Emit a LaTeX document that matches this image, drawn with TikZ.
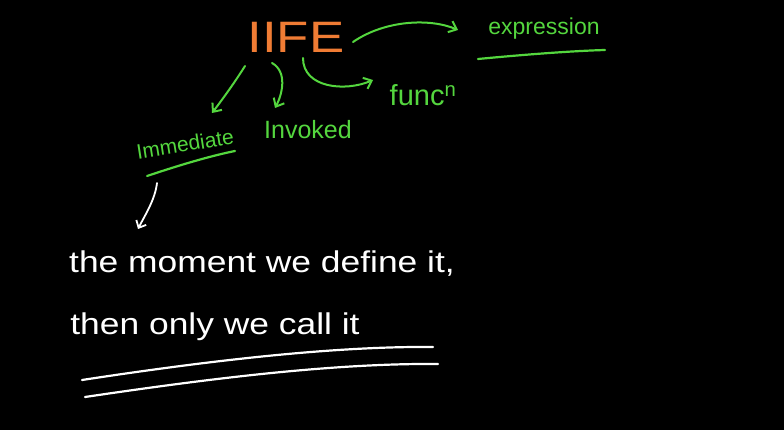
\documentclass[tikz,border=0pt]{standalone}
\usepackage{fontspec}
\setmainfont{Liberation Sans}
\usetikzlibrary{arrows.meta}
\definecolor{chalkgreen}{RGB}{84,214,62}
\definecolor{chalkorange}{RGB}{240,124,52}
\tikzset{
  gtext/.style={text=chalkgreen, inner sep=0pt},
  wtext/.style={text=white, inner sep=0pt, xscale=1.18},
  garrow/.style={draw=chalkgreen, line width=2pt, line cap=round, -{Straight Barb[length=7pt,width=12pt]}},
  warrow/.style={draw=white, line width=1.8pt, line cap=round, -{Straight Barb[length=6pt,width=11pt]}},
  gline/.style={draw=chalkgreen, line width=2.2pt, line cap=round},
  wline/.style={draw=white, line width=2.2pt, line cap=round}
}
\begin{document}
\begin{tikzpicture}[x=1pt,y=-1pt]
\fill[black] (0,0) rectangle (784,430);
\useasboundingbox (0,0) rectangle (784,430);

\node[text=chalkorange, inner sep=0pt, xscale=1.2] (iife) at (296,37) {\fontsize{44}{48}\selectfont IIFE};
\node[gtext] (expr) at (544,29) {\fontsize{23}{26}\selectfont expression};
\node[gtext] (func) at (423,95) {\fontsize{29}{32}\selectfont func\textsuperscript{n}};
\node[gtext, rotate=9] (imm) at (185,144) {\fontsize{21}{24}\selectfont Immediate};
\node[gtext] (inv) at (308,130) {\fontsize{25}{28}\selectfont Invoked};
\node[wtext] (l1) at (262,264) {\fontsize{30}{34}\selectfont the moment we define it,};
\node[wtext] (l2) at (215,327) {\fontsize{30}{34}\selectfont then only we call it};

% arrow ends
\coordinate (s1) at (353,42);  \coordinate (e1) at (458,30);
\coordinate (s2) at (303,58);  \coordinate (e2) at (373,80);
\coordinate (s3) at (245,66);  \coordinate (e3) at (212,113);
\coordinate (s4) at (272,63);  \coordinate (e4) at (275,108);
\coordinate (s5) at (157,183); \coordinate (e5) at (138,229);

\draw[garrow] (s1) .. controls (385,20) and (430,18) .. (e1);
\draw[garrow] (s2) .. controls (303,88) and (345,92) .. (e2);
\draw[garrow] (s3) .. controls (235,82) and (222,100) .. (e3);
\draw[garrow] (s4) .. controls (288,72) and (282,95) .. (e4);
\draw[warrow] (s5) .. controls (155,200) and (145,215) .. (e5);

% underlines
\draw[gline] (478,59) .. controls (520,55) and (570,51) .. (605,50);
\draw[gline] (147,176) .. controls (180,165) and (210,156) .. (235,151);
\draw[wline] (82,380) .. controls (200,362) and (330,346) .. (433,347);
\draw[wline] (85,397) .. controls (200,380) and (330,363) .. (438,364);
\end{tikzpicture}
\end{document}
